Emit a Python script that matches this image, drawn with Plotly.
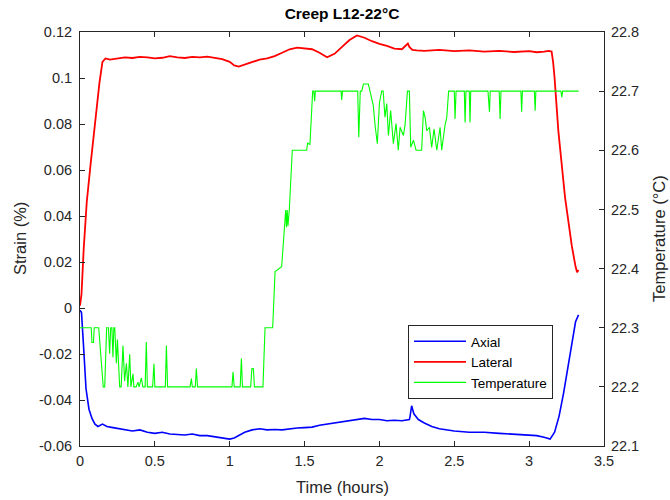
import plotly.graph_objects as go

# ---------------- data ----------------
time_lateral = [0, 0.01, 0.025, 0.045, 0.07, 0.1, 0.13, 0.15, 0.17, 0.2,
                0.25, 0.3, 0.35, 0.4, 0.45, 0.5, 0.55, 0.6, 0.65, 0.7,
                0.75, 0.8, 0.85, 0.9, 0.95, 1.0, 1.03, 1.06, 1.1, 1.15,
                1.2, 1.25, 1.3, 1.35, 1.4, 1.45, 1.5, 1.55, 1.6, 1.65,
                1.7, 1.75, 1.8, 1.85, 1.9, 1.95, 2.0, 2.05, 2.1, 2.15,
                2.19, 2.2, 2.22, 2.25, 2.3, 2.4, 2.5, 2.6, 2.7, 2.8,
                2.9, 3.0, 3.05, 3.1, 3.13, 3.15, 3.16, 3.17, 3.195, 3.24,
                3.285, 3.31, 3.32, 3.33]
lateral = [0.001, 0.006, 0.026, 0.046, 0.062, 0.08, 0.098, 0.107, 0.1085, 0.108,
           0.1085, 0.109, 0.1087, 0.1092, 0.109, 0.1085, 0.1088, 0.1095, 0.109, 0.1087,
           0.1092, 0.109, 0.1093, 0.1088, 0.1082, 0.107, 0.1055, 0.105, 0.1058, 0.107,
           0.108, 0.1085, 0.1095, 0.111, 0.1125, 0.1132, 0.113, 0.1125, 0.111, 0.109,
           0.1105, 0.1135, 0.1165, 0.1185, 0.1175, 0.116, 0.1148, 0.114, 0.1128, 0.1125,
           0.115, 0.1135, 0.1122, 0.112, 0.1118, 0.1122, 0.1117, 0.112, 0.1115, 0.1118,
           0.1113, 0.1117, 0.1112, 0.1115, 0.1118, 0.1115, 0.107, 0.1, 0.077, 0.048,
           0.027, 0.018, 0.0155, 0.0165]

time_axial = [0, 0.01, 0.025, 0.04, 0.06, 0.08, 0.1, 0.12, 0.15, 0.18,
              0.22, 0.26, 0.3, 0.35, 0.4, 0.45, 0.5, 0.55, 0.6, 0.65,
              0.7, 0.75, 0.8, 0.85, 0.9, 0.95, 1.0, 1.03, 1.06, 1.1,
              1.15, 1.2, 1.25, 1.3, 1.35, 1.4, 1.45, 1.5, 1.55, 1.6,
              1.65, 1.7, 1.75, 1.8, 1.85, 1.9, 1.95, 2.0, 2.05, 2.1,
              2.15, 2.2, 2.205, 2.215, 2.23, 2.26, 2.3, 2.35, 2.4, 2.45,
              2.5, 2.6, 2.7, 2.8, 2.9, 3.0, 3.05, 3.1, 3.14, 3.17,
              3.2, 3.23, 3.26, 3.29, 3.31, 3.33]
axial = [-0.001, -0.002, -0.018, -0.035, -0.044, -0.048, -0.0505, -0.0515, -0.0505, -0.0515,
         -0.052, -0.0525, -0.053, -0.0535, -0.053, -0.054, -0.0545, -0.054, -0.0548, -0.055,
         -0.0552, -0.0548, -0.0555, -0.0555, -0.056, -0.0563, -0.057, -0.0565, -0.0555, -0.054,
         -0.053, -0.0525, -0.053, -0.0528, -0.053, -0.0525, -0.0522, -0.052, -0.0518, -0.051,
         -0.0505, -0.0502, -0.0495, -0.049, -0.0485, -0.048, -0.0485, -0.0485, -0.049, -0.0488,
         -0.049, -0.0485, -0.047, -0.0425, -0.046, -0.0485, -0.05, -0.0515, -0.0525, -0.053,
         -0.0535, -0.054, -0.054, -0.0545, -0.0548, -0.0552, -0.0555, -0.0562, -0.057, -0.054,
         -0.047, -0.037, -0.025, -0.012, -0.006, -0.003]

time_temp = [0.0, 0.075, 0.08, 0.09, 0.095, 0.125, 0.155, 0.165, 0.178, 0.19,
             0.198, 0.205, 0.213, 0.22, 0.226, 0.232, 0.243, 0.25, 0.265, 0.275,
             0.287, 0.298, 0.31, 0.32, 0.332, 0.34, 0.354, 0.36, 0.375, 0.387,
             0.395, 0.41, 0.42, 0.435, 0.443, 0.45, 0.485, 0.494, 0.5, 0.57,
             0.577, 0.585, 0.735, 0.744, 0.75, 0.77, 0.777, 0.785, 1.015, 1.022,
             1.03, 1.07, 1.078, 1.085, 1.14, 1.148, 1.158, 1.165, 1.222, 1.236,
             1.287, 1.303, 1.347, 1.369, 1.374, 1.379, 1.384, 1.389, 1.394, 1.398,
             1.418, 1.514, 1.52, 1.536, 1.554, 1.562, 1.567, 1.572, 1.744, 1.748,
             1.753, 1.855, 1.862, 1.872, 1.882, 1.893, 1.926, 1.937, 1.959, 1.971,
             1.986, 2.0, 2.015, 2.025, 2.037, 2.049, 2.06, 2.075, 2.093, 2.111,
             2.126, 2.138, 2.16, 2.171, 2.187, 2.2, 2.209, 2.227, 2.245, 2.282,
             2.294, 2.305, 2.316, 2.334, 2.349, 2.365, 2.383, 2.405, 2.416, 2.438,
             2.45, 2.462, 2.5, 2.505, 2.512, 2.567, 2.572, 2.578, 2.6, 2.605,
             2.61, 2.725, 2.73, 2.735, 2.74, 2.8, 2.806, 2.812, 2.945, 2.95,
             2.955, 3.035, 3.04, 3.045, 3.212, 3.218, 3.224, 3.33]
temperature = [22.3, 22.3, 22.275, 22.275, 22.3, 22.3, 22.2, 22.2, 22.3, 22.3,
               22.256, 22.3, 22.3, 22.25, 22.3, 22.3, 22.24, 22.28, 22.2, 22.2,
               22.27, 22.21, 22.24, 22.2, 22.255, 22.2, 22.222, 22.2, 22.2, 22.208,
               22.2, 22.215, 22.2, 22.2, 22.276, 22.2, 22.2, 22.239, 22.2, 22.2,
               22.27, 22.2, 22.2, 22.214, 22.2, 22.2, 22.231, 22.2, 22.2, 22.225,
               22.2, 22.2, 22.248, 22.2, 22.2, 22.231, 22.231, 22.2, 22.2, 22.3,
               22.3, 22.395, 22.403, 22.471, 22.499, 22.47, 22.499, 22.472, 22.499, 22.499,
               22.6, 22.6, 22.612, 22.61, 22.7, 22.7, 22.683, 22.7, 22.7, 22.685,
               22.7, 22.7, 22.622, 22.7, 22.7, 22.712, 22.712, 22.7, 22.676, 22.642,
               22.611, 22.68, 22.7, 22.7, 22.656, 22.679, 22.625, 22.667, 22.611, 22.645,
               22.6, 22.639, 22.625, 22.642, 22.7, 22.7, 22.605, 22.617, 22.6, 22.6,
               22.667, 22.656, 22.633, 22.639, 22.605, 22.636, 22.6, 22.639, 22.6, 22.642,
               22.656, 22.7, 22.7, 22.653, 22.7, 22.7, 22.647, 22.7, 22.7, 22.647,
               22.7, 22.7, 22.665, 22.665, 22.7, 22.7, 22.653, 22.7, 22.7, 22.665,
               22.7, 22.7, 22.667, 22.7, 22.7, 22.69, 22.7, 22.7]

x_tickvals = [0, 0.5, 1, 1.5, 2, 2.5, 3, 3.5]
x_ticktext = ["0", "0.5", "1", "1.5", "2", "2.5", "3", "3.5"]
strain_tickvals = [-0.06, -0.04, -0.02, 0, 0.02, 0.04, 0.06, 0.08, 0.1, 0.12]
strain_ticktext = ["-0.06", "-0.04", "-0.02", "0", "0.02", "0.04", "0.06", "0.08", "0.1", "0.12"]
temp_tickvals = [22.1, 22.2, 22.3, 22.4, 22.5, 22.6, 22.7, 22.8]
temp_ticktext = ["22.1", "22.2", "22.3", "22.4", "22.5", "22.6", "22.7", "22.8"]

# ---------------- figure ----------------
AX = "#262626"
FONT = "Liberation Sans, Arial, Helvetica, sans-serif"
TICK = 14.5
LABEL = 16.5

fig = go.Figure()
fig.add_trace(go.Scatter(x=time_axial, y=axial, mode="lines", name="Axial",
                         line=dict(color="#0000FF", width=1.6), yaxis="y"))
fig.add_trace(go.Scatter(x=time_lateral, y=lateral, mode="lines", name="Lateral",
                         line=dict(color="#FF0000", width=1.8), yaxis="y"))
fig.add_trace(go.Scatter(x=time_temp, y=temperature, mode="lines", name="Temperature",
                         line=dict(color="#00FF00", width=1.1), yaxis="y2"))

fig.update_layout(
    width=670, height=500,
    margin=dict(l=80, r=66, t=32, b=54),
    paper_bgcolor="white", plot_bgcolor="white",
    font=dict(family=FONT, size=TICK, color=AX),
    title=dict(text="<b>Creep L12-22°C</b>", x=0.5, xref="paper", xanchor="center",
               y=1 - 14 / 500, yref="container", yanchor="middle",
               font=dict(family=FONT, size=15.5, color="black")),
    xaxis=dict(range=[0, 3.5], tickvals=x_tickvals, ticktext=x_ticktext,
               showline=True, linecolor=AX, linewidth=1, mirror="ticks",
               ticks="inside", ticklen=5, tickcolor=AX, showgrid=False, zeroline=False,
               ticklabelstandoff=2,
               tickfont=dict(size=TICK, color=AX)),
    yaxis=dict(range=[-0.06, 0.12], tickvals=strain_tickvals, ticktext=strain_ticktext,
               showline=True, linecolor=AX, linewidth=1, mirror=False,
               ticks="inside", ticklen=5, tickcolor=AX, showgrid=False, zeroline=False,
               ticklabelstandoff=4,
               tickfont=dict(size=TICK, color=AX)),
    yaxis2=dict(range=[22.1, 22.8], tickvals=temp_tickvals, ticktext=temp_ticktext,
                overlaying="y", side="right",
                showline=True, linecolor=AX, linewidth=1,
                ticks="inside", ticklen=5, tickcolor=AX, showgrid=False, zeroline=False,
                ticklabelstandoff=3,
                tickfont=dict(size=TICK, color=AX)),
    legend=dict(x=(553 - 80) / 524, y=(446 - 362) / 414, xanchor="right", yanchor="middle",
                bgcolor="white", bordercolor=AX, borderwidth=1, itemwidth=52,
                font=dict(size=13.5, color="black"), tracegroupgap=0),
    showlegend=True,
    annotations=[
        dict(text="Time (hours)", xref="paper", yref="paper", x=0.5, y=-(487 - 446) / 414,
             xanchor="center", yanchor="middle", showarrow=False,
             font=dict(size=LABEL, color=AX)),
        dict(text="Strain (%)", xref="paper", yref="paper", x=-(80 - 20) / 524, y=0.5,
             xanchor="center", yanchor="middle", textangle=-90, showarrow=False,
             font=dict(size=LABEL, color=AX)),
        dict(text="Temperature (°C)", xref="paper", yref="paper", x=1 + (659 - 604) / 524, y=0.5,
             xanchor="center", yanchor="middle", textangle=-90, showarrow=False,
             font=dict(size=LABEL, color=AX)),
    ],
)

fig.write_html("out.html")
